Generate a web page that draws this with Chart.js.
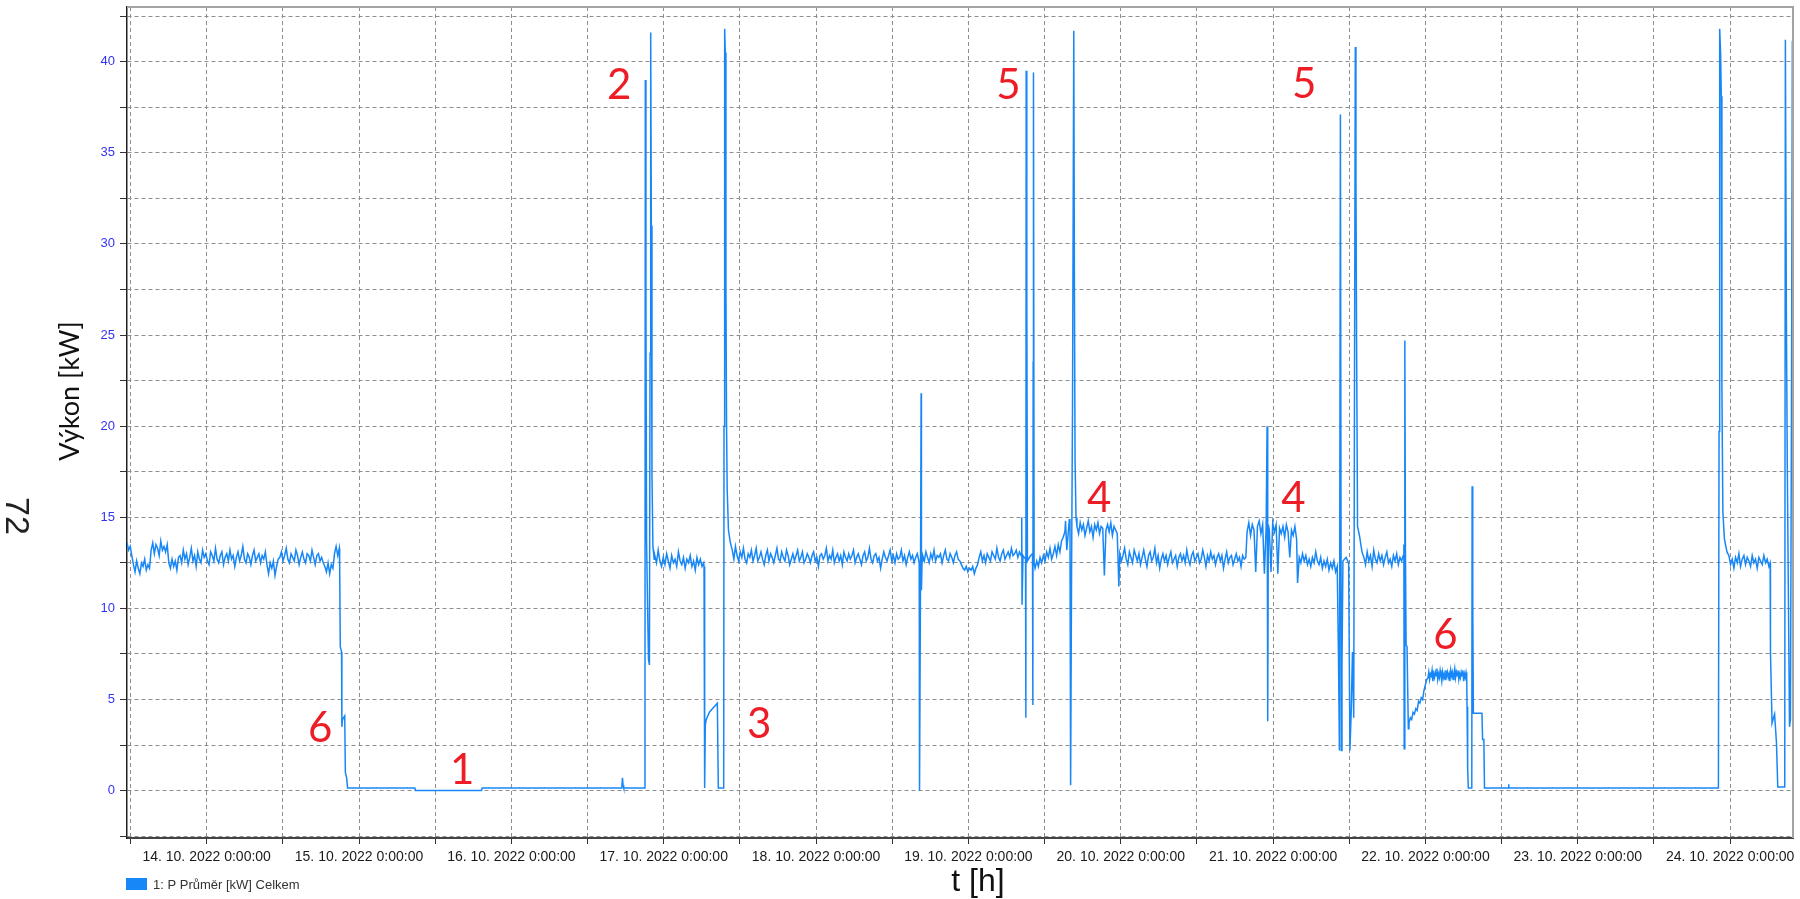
<!DOCTYPE html>
<html>
<head>
<meta charset="utf-8">
<script src="https://cdn.jsdelivr.net/npm/chart.js@4.4.0/dist/chart.umd.min.js"></script>
<style>
  html, body { margin: 0; padding: 0; background: #fff; }
  #wrap { width: 1800px; height: 899px; position: relative; }
</style>
</head>
<body>
<div id="wrap"><canvas id="c" width="1800" height="899"></canvas></div>
<script>
// Time axis: hours counted from 14. 10. 2022 0:00:00
const X_MIN = -12.55;
const X_MAX = 249.9;
const xTickHours = [-12, 0, 12, 24, 36, 48, 60, 72, 84, 96, 108, 120, 132, 144, 156, 168, 180, 192, 204, 216, 228, 240];
const dayLabels = ['14. 10. 2022 0:00:00', '15. 10. 2022 0:00:00', '16. 10. 2022 0:00:00', '17. 10. 2022 0:00:00',
  '18. 10. 2022 0:00:00', '19. 10. 2022 0:00:00', '20. 10. 2022 0:00:00', '21. 10. 2022 0:00:00',
  '22. 10. 2022 0:00:00', '23. 10. 2022 0:00:00', '24. 10. 2022 0:00:00'];
const yTicks = [-2.5, 0, 2.5, 5, 7.5, 10, 12.5, 15, 17.5, 20, 22.5, 25, 27.5, 30, 32.5, 35, 37.5, 40, 42.5];

// Steady running periods: sampled power [kW], evenly spaced between the given start/end hours
const runA = [13.6,13.2,13.4,12.9,
  12.4,12.0,12.6,12.2,11.9,12.5,12.3,12.7,12.1,12.4,12.2,
  13.2,13.6,13.0,13.5,13.3,12.9,13.7,13.2,13.4,13.1,13.5,
  12.5,12.2,12.7,12.3,12.6,12.1,12.8,
  12.9,12.5,13.2,12.7,13.0,12.4,12.8,13.3,12.6,12.9,12.3,13.1,12.7,12.5,13.2,12.8,13.0,12.6,12.4,13.1,
  12.9,12.6,13.3,12.7,12.5,12.9,13.1,12.4,12.8,13.0,12.6,13.2,12.7,12.9,12.3,12.8,13.1,12.6,12.9,13.4,
  12.7,12.5,13.0,12.8,12.4,12.9,13.2,12.6,12.8,13.0,12.5,12.9,12.7,13.1,
  12.4,11.9,12.5,12.2,12.6,11.8,12.3,12.7,
  12.8,13.1,12.6,12.9,13.3,12.7,12.5,13.0,12.8,12.6,13.2,12.9,12.4,12.8,13.1,12.7,12.5,13.0,12.9,12.6,
  13.2,12.8,12.4,12.9,13.0,12.6,12.8,12.5,
  12.3,12.0,12.5,11.9,12.4,12.2,
  13.0,13.4,12.9,13.3];
const runB = [12.9,12.5,13.2,12.6,12.3,12.8,12.4,13.0,12.6,12.2,12.9,12.5,12.7,12.3,13.1,12.6,12.4,12.8,12.2,12.7,
  12.5,12.9,12.3,12.6,12.1,12.8,12.4,12.7,12.3,12.5];
const runC = [13.2,12.7,13.4,12.9,12.6,13.1,12.8,13.3,12.7,12.5,13.0,12.8,13.2,12.6,12.9,13.3,12.6,12.8,13.1,12.7,
  12.4,12.9,13.2,12.6,13.0,12.8,12.5,12.9,13.3,12.7,12.6,13.1,12.8,12.6,13.2,12.9,12.4,12.7,13.0,12.6,
  12.9,13.2,12.6,12.8,13.1,12.5,12.7,13.0,12.8,12.5,12.9,13.1,12.6,12.8,12.3,12.9,13.0,12.7,12.9,13.3,
  12.6,12.9,12.7,13.2,12.5,12.8,13.0,12.6,12.9,12.4,13.1,12.8,12.6,13.0,12.7,12.9,13.2,12.5,12.8,13.0,
  12.7,12.4,12.9,13.1,12.6,12.8,13.3,12.7,12.5,12.9,13.0,12.6,12.8,12.2,12.7,13.1,12.8,12.6,12.9,13.2,
  12.6,12.9,12.5,13.0,12.7,12.8,13.2,12.6,12.9,12.4,12.8,13.1,12.7,12.9,12.5,12.8,13.0,12.6];
const runD = [12.9,12.6,13.1,12.8,12.5,13.0,12.7,13.2,12.6,12.9,12.8,13.0,12.5,12.9,13.2,12.7,12.6,13.0,12.8,12.5,
  12.9,13.1,12.7,12.6,
  12.4,12.2,12.1,12.3,12.0,12.2,12.1,12.3,11.9,12.2,12.4,
  12.8,13.1,12.6,12.9,12.5,13.0,12.8,12.6,13.1,12.9,12.7,13.3,12.8,12.6,13.0,13.2,12.7,12.9,13.1,12.8,
  13.3,12.9,13.0,13.2,12.8,13.1,12.9];
const runE = [12.2,12.6,12.3,12.8,12.5,12.9,12.6,13.1,12.8,13.3,12.7,13.0,13.4,12.9,13.5,13.1,13.7,13.9,14.2];
const runF = [14.5,14.1,14.7,14.3,14.6,14.0,14.4,14.8,14.2,14.5,13.9,14.6,14.3,14.7,14.1,14.5,14.4,11.8,14.3,14.6,
  14.2,14.7,14.0,14.5,14.3,14.1,11.2];
const runG = [13.0,12.6,12.9,13.3,12.7,12.4,13.1,12.8,12.5,13.2,12.9,12.6,13.0,12.4,12.8,13.2,12.7,12.3,12.9,13.1,
  12.6,12.8,13.3,12.5,12.9,12.2,12.7,13.0,12.6,12.9,12.4,12.8,13.1,12.5,12.7,12.9,12.3,12.8,13.0,12.6,
  12.9,12.5,13.2,12.7,12.4,12.9,13.1,12.6,12.8,13.0,12.5,12.7,13.2,12.8,12.3,12.9,12.6,13.1,12.7,12.9,
  12.4,12.8,13.0,12.6,12.9,12.2,12.7,13.1,12.5,12.8,12.9,12.4,12.7,13.0,12.6,12.8,12.3,12.9,12.7,12.8];
const runH1 = [14.2,14.7,14.0,14.6,14.3,12.0,14.5,14.8,14.1,14.6,11.9,14.4];
const runH2 = [14.3,12.0,14.7,14.2,14.6,11.9,14.4,14.1,14.5,13.9,14.6,14.2,12.8,14.3,14.0,14.5,13.8];
const runI = [11.4,12.8,12.5,13.0,12.6,12.9,12.4,12.7,12.3,12.8,12.5,13.1,12.6,12.4,12.8,12.2,12.6,12.3,12.7,12.1,
  12.5,12.2,12.6,12.0,12.3];
const runJ = [12.8,12.4,13.1,12.6,12.9,12.3,13.2,12.7,12.5,13.0,12.6,12.9,12.4,12.8,13.1,12.5,12.7,12.3,12.9,12.6,
  13.0,12.4,12.8,12.6,12.9];
const runRamp = [3.7,4.0,3.9,4.3,4.2,4.5,4.4,4.9,4.8,5.1,5.0,5.5,5.8,6.1];
const runK = [6.2,6.5,6.1,6.4,6.3,6.6,6.0,6.4,6.2,6.5,6.3,6.7,6.1,6.4,6.2,6.6,6.3,6.0,6.5,6.2,6.4,6.1,6.6,6.3,
  6.5,6.2,6.4,6.0,6.6,6.3,6.5,6.1,6.4,6.7,6.2,6.5,6.3,6.6,6.1,6.4,6.2,6.5,6.3,6.6,6.0,6.4,6.2,6.5];
const runL = [12.9,12.4,12.7,12.2,12.8,12.5,13.0,12.3,12.7,12.9,12.4,12.8,12.6,12.3,12.9,12.5,12.7,12.2,12.8,12.6,
  12.4,12.9,12.5,12.7,12.3];

// Transitions, stops and start-up peaks: [hour, kW]
const evShutdown = [[20.95,12.5],[21.05,7.9],[21.25,7.6],[21.3,3.5],[21.4,3.9],[21.75,4.1],[21.85,1.0],[22.05,0.7],[22.2,0.15],
  [32.8,0.15],[32.9,0.0],[43.3,0.0],[43.4,0.15],[65.4,0.15],[65.5,0.7],[65.6,0.3],[65.7,0.15],[69.0,0.15],
  [69.05,3.0],[69.1,39.0],[69.2,26.3],[69.3,13.7],[69.45,10.3],[69.6,7.2],[69.75,6.9],[69.85,24.0],[69.95,41.6],
  [70.05,31.0],[70.15,17.3],[70.3,13.4],[70.5,12.7]];
const evStop3 = [[78.35,12.3],[78.4,0.15],[78.5,0.15],[78.55,3.6],[78.7,3.9],[79.2,4.3],[79.7,4.5],[80.2,4.7],[80.45,4.8],
  [80.6,0.15],[81.45,0.15],[81.5,20.0],[81.6,41.8],[81.7,40.5],[81.8,27.7],[81.9,20.0],[82.0,16.5],[82.2,14.3],[82.5,13.6]];
const evDrop = [[112.25,12.5],[112.3,0.0],[112.45,11.5],[112.55,21.8],[112.6,11.0],[112.7,12.6]];
const evPeak5a = [[128.4,15.0],[128.45,10.2],[128.6,12.9],[129.0,12.7],[129.05,4.0],[129.1,39.5],[129.2,27.2],[129.3,12.6],
  [129.8,12.9],[130.1,13.0],[130.15,4.7],[130.2,23.5],[130.25,39.4],[130.35,12.5]];
const evPeak4a = [[135.3,14.8],[135.5,13.2],[135.9,14.9],[136.0,14.6],[136.1,0.3],[136.25,12.0],[136.4,21.0],[136.6,41.7],
  [136.7,27.5],[136.8,18.2],[136.95,15.0]];
const evPeak4b = [[167.0,14.4],[167.05,20.0],[167.15,3.8],[167.25,14.6]];
const evPeak5b = [[178.2,12.3],[178.3,7.3],[178.45,2.2],[178.6,37.1],[178.75,2.2],[178.85,7.0],[179.0,12.6],[179.5,12.8],
  [179.9,12.5],[180.1,2.2],[180.3,4.3],[180.5,7.6],[180.7,4.0],[180.85,26.2],[180.95,40.8],[181.05,33.7],[181.15,24.7],
  [181.3,14.5],[181.6,14.0],[182.0,13.1]];
const evPart6 = [[188.6,13.5],[188.65,2.3],[188.75,24.7],[188.85,13.0],[188.95,8.0],[189.1,7.9],[189.3,3.4]];
const evWeekend = [[198.5,6.3],[198.55,4.6],[198.65,1.2],[198.75,0.15],[199.3,0.15],[199.35,16.7],[199.45,10.4],
  [199.55,4.25],[200.9,4.25],[201.0,2.8],[201.2,2.8],[201.3,0.15],[205.05,0.15],[205.1,0.35],[205.15,0.15],
  [238.15,0.15],[238.25,19.7],[238.35,41.8],[238.5,40.4],[238.6,38.1],[238.7,22.0],[238.85,15.3],[239.1,13.8],[239.5,13.1]];
const evEnd = [[246.3,12.5],[246.35,7.6],[246.6,3.7],[247.0,4.2],[247.3,2.6],[247.5,0.2],[248.5,0.2],[248.6,0.6],
  [248.7,41.2],[248.85,26.5],[249.0,17.9],[249.35,3.5],[249.5,3.9],[249.65,20.0],[249.8,41.1],[250.0,41.1]];

// Numbered annotations: label, hour, kW
const markLabels = ['1', '2', '3', '4', '4', '5', '5', '6', '6'];
const markHours = [40.25, 65.0, 87.05, 140.6, 171.2, 126.3, 172.9, 17.9, 195.15];
const markKw = [1.2, 38.8, 3.7, 16.1, 16.1, 38.8, 38.85, 3.5, 8.6];

const seriesName = '1: P Průměr [kW] Celkem';
const LINE_COLOR = '#1787f7';

function run(t0, t1, values) {
  return values.map((v, i) => ({ x: t0 + (t1 - t0) * i / (values.length - 1), y: v }));
}
function pts(list) { return list.map(([x, y]) => ({ x, y })); }

const points = [].concat(
  run(X_MIN, 20.9, runA), pts(evShutdown),
  run(70.6, 78.3, runB), pts(evStop3),
  run(82.8, 112.2, runC), pts(evDrop),
  run(112.8, 128.3, runD), pts(evPeak5a),
  run(130.5, 135.2, runE), pts(evPeak4a),
  run(137.1, 143.7, runF),
  run(143.85, 163.7, runG),
  run(163.9, 166.9, runH1), pts(evPeak4b),
  run(167.4, 171.7, runH2),
  run(171.85, 178.1, runI), pts(evPeak5b),
  run(182.3, 188.5, runJ), pts(evPart6),
  run(189.4, 192.2, runRamp),
  run(192.4, 198.4, runK), pts(evWeekend),
  run(239.8, 246.1, runL), pts(evEnd)
);

const decor = {
  id: 'decor',
  afterDraw(chart) {
    const { ctx, chartArea: a, scales: { x, y } } = chart;
    ctx.save();
    // frame on top and right
    ctx.strokeStyle = '#a3a3a3';
    ctx.lineWidth = 2;
    ctx.beginPath();
    ctx.moveTo(a.left, a.top);
    ctx.lineTo(a.right, a.top);
    ctx.lineTo(a.right, a.bottom);
    ctx.stroke();

    // numbered markers
    ctx.fillStyle = '#ee1c25';
    ctx.font = '42px Lato';
    ctx.textAlign = 'center';
    ctx.textBaseline = 'alphabetic';
    markLabels.forEach((lab, i) => {
      ctx.fillText(lab, x.getPixelForValue(markHours[i]), y.getPixelForValue(markKw[i]) + 15);
    });

    // axis titles
    ctx.fillStyle = '#111';
    ctx.textBaseline = 'middle';
    ctx.font = '32px "Liberation Sans"';
    ctx.fillText('t [h]', 978, 882);

    ctx.save();
    ctx.translate(70, 391);
    ctx.rotate(-Math.PI / 2);
    ctx.font = '27px Lato';
    ctx.fillText('Výkon [kW]', 0, 0);
    ctx.restore();

    ctx.save();
    ctx.translate(15, 516);
    ctx.rotate(Math.PI / 2);
    ctx.font = '34px "Liberation Sans"';
    ctx.fillStyle = '#222';
    ctx.fillText('72', 0, 0);
    ctx.restore();

    // legend
    ctx.fillStyle = LINE_COLOR;
    ctx.fillRect(126, 878, 21, 12);
    ctx.fillStyle = '#333';
    ctx.textAlign = 'left';
    ctx.font = '13px "Liberation Sans"';
    ctx.fillText(seriesName, 153, 885);
    ctx.restore();
  }
};

Chart.defaults.font.family = '"Liberation Sans", Arial, sans-serif';

new Chart(document.getElementById('c'), {
  type: 'line',
  data: {
    datasets: [{
      label: seriesName,
      data: points,
      borderColor: LINE_COLOR,
      borderWidth: 1.5,
      pointRadius: 0,
      tension: 0,
      fill: false
    }]
  },
  options: {
    responsive: false,
    animation: false,
    devicePixelRatio: 1,
    parsing: false,
    layout: { padding: { top: 7, right: 7, left: 0, bottom: 0 } },
    plugins: { legend: { display: false }, tooltip: { enabled: false } },
    scales: {
      x: {
        type: 'linear',
        min: X_MIN,
        max: X_MAX,
        afterBuildTicks: s => { s.ticks = xTickHours.map(v => ({ value: v })); },
        afterFit: s => { s.height = 61; s.paddingLeft = 0; s.paddingRight = 0; },
        ticks: {
          autoSkip: false, maxRotation: 0, minRotation: 0, padding: 5,
          color: '#1a1a1a', font: { size: 14 },
          callback: v => (v >= 0 && v % 24 === 0 ? dayLabels[v / 24] : '')
        },
        grid: { color: '#8e8e8e', lineWidth: 1, tickLength: 6, tickColor: '#333' },
        border: { display: true, color: '#444', width: 2, dash: [4, 3] }
      },
      y: {
        type: 'linear',
        min: -2.6,
        max: 43,
        afterBuildTicks: s => { s.ticks = yTicks.map(v => ({ value: v })); },
        afterFit: s => { s.width = 127; s.paddingTop = 0; s.paddingBottom = 0; },
        ticks: {
          padding: 5, color: '#3434f0', font: { size: 13 },
          callback: v => (v % 5 === 0 ? String(v) : '')
        },
        grid: { color: '#8e8e8e', lineWidth: 1, tickLength: 7, tickColor: '#333' },
        border: { display: true, color: '#222', width: 1.5, dash: [4, 3] }
      }
    }
  },
  plugins: [decor]
});
</script>
</body>
</html>
